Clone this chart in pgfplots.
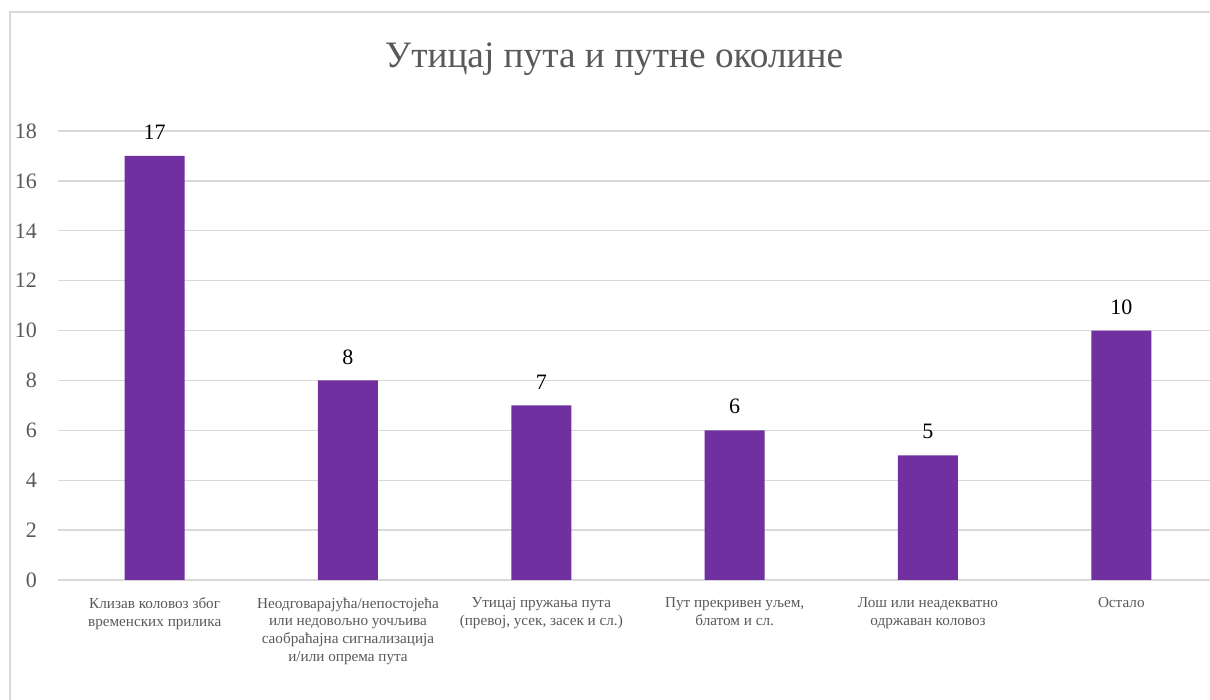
\documentclass[border=0pt]{standalone}
\usepackage{fontspec}
\setmainfont{Liberation Serif}
\usepackage{pgfplots}
\pgfplotsset{compat=1.18}
\definecolor{barc}{HTML}{7030A0}
\definecolor{gridc}{HTML}{D9D9D9}
\definecolor{txt}{HTML}{595959}
\begin{document}
\begin{tikzpicture}[x=1pt,y=1pt]
\begin{axis}[
  at={(58pt,120pt)}, anchor=south west,
  scale only axis, width=1160pt, height=449pt,
  xmin=-0.5, xmax=5.5, ymin=0, ymax=18,
  ytick={0,2,...,18},
  xtick={0,...,5},
  xticklabels={{Клизав коловоз због\\временских прилика},
    {Неодговарајућа/непостојећа\\или недовољно уочљива\\саобраћајна сигнализација\\и/или опрема пута},
    {Утицај пружања пута\\(превој, усек, засек и сл.)},
    {Пут прекривен уљем,\\блатом и сл.},
    {Лош или неадекватно\\одржаван коловоз},
    {Остало}},
  axis line style={draw=none},
  tick style={draw=none},
  ymajorgrids, grid style={gridc, line width=1.3pt},
  ybar, bar width=60pt,
  clip=false,
  /pgf/number format/assume math mode=true,
  yticklabel style={font=\fontsize{22}{26}\selectfont, text=txt, anchor=east, inner sep=0pt, xshift=-21pt},
  xticklabel style={font=\fontsize{15.2}{17.8}\selectfont, text=txt, align=center, anchor=north, inner sep=0pt, yshift=-13pt},
  nodes near coords,
  nodes near coords style={font=\fontsize{22}{26}\selectfont, text=black, anchor=south, inner sep=0pt, yshift=16pt},
]
\addplot[fill=barc, draw=none] coordinates {(0,17) (1,8) (2,7) (3,6) (4,5) (5,10)};
\end{axis}
\node[anchor=base, font=\fontsize{37.3}{41}\selectfont, text=txt] at (614pt,632pt) {Утицај пута и путне околине};
\draw[gridc, line width=1.3pt] (10pt,0pt) -- (10pt,688pt) -- (1230pt,688pt);
\pgfresetboundingbox
\useasboundingbox (0,0) rectangle (1210pt,700pt);
\end{tikzpicture}
\end{document}
